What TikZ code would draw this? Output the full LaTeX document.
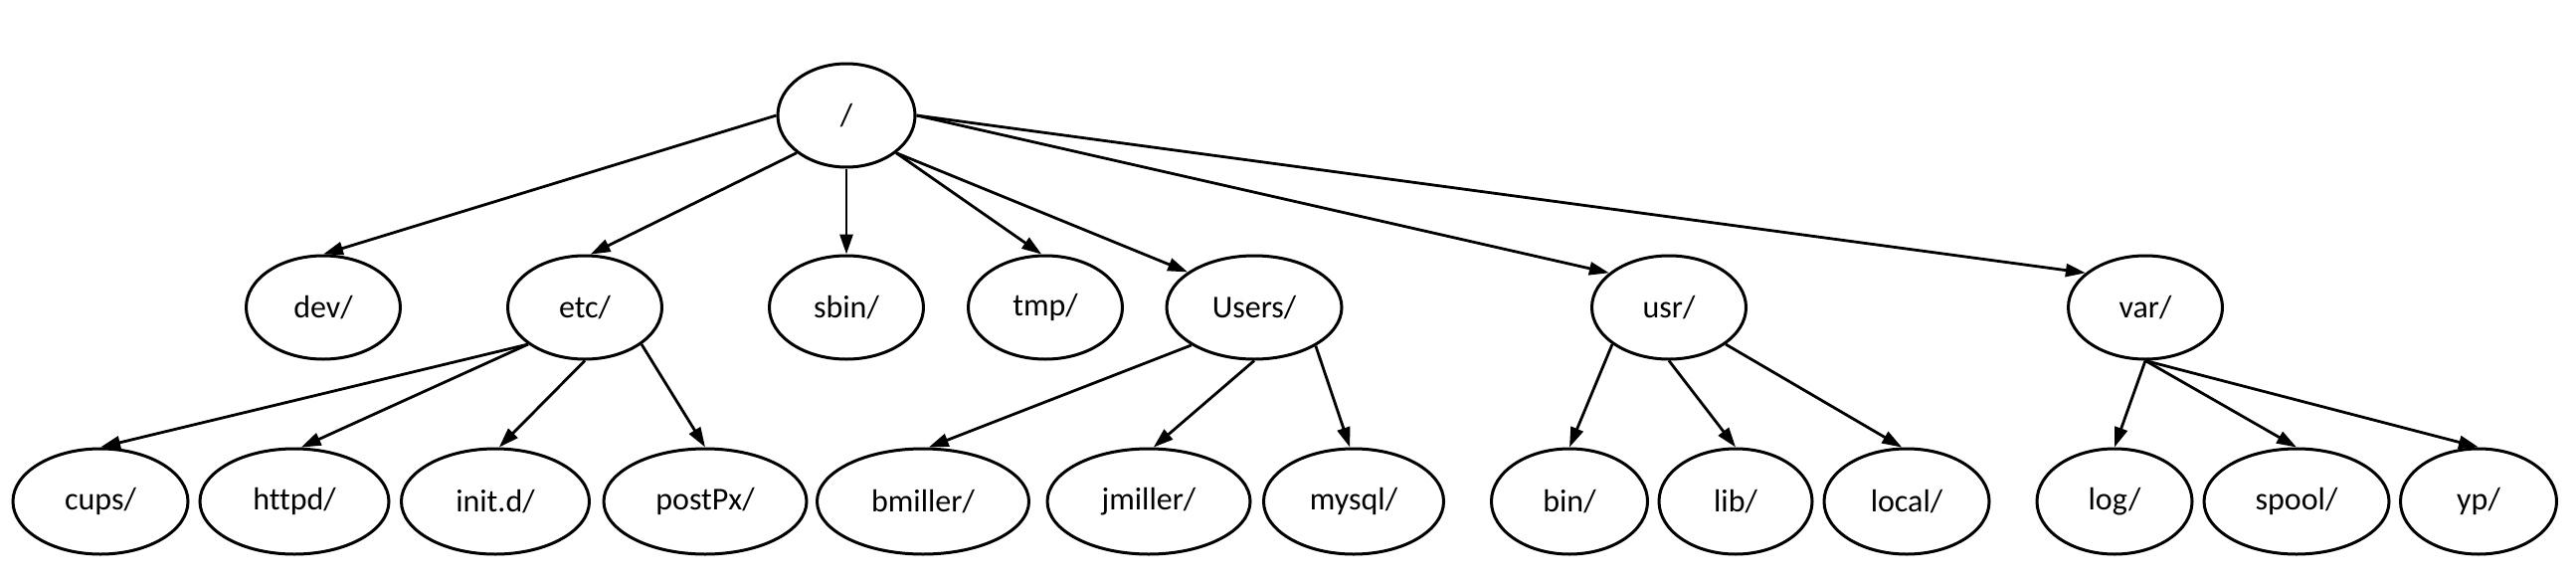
\documentclass[tikz,border=0pt]{standalone}
\usepackage{fontspec}
\setmainfont{Carlito}[Ligatures=NoCommon]
\usetikzlibrary{shapes.geometric,arrows.meta}
\newcommand{\dirfont}{\fontsize{32pt}{38pt}\selectfont}
\tikzset{
  dirnode/.style={ellipse, draw, line width=3pt, minimum height=104pt, minimum width=155pt, inner sep=0pt, font=\dirfont},
  leaf/.style={dirnode, minimum height=106pt},
  conn/.style={line width=2.8pt, -{Triangle[length=20pt,width=13pt]}}
}
\begin{document}
\begin{tikzpicture}[x=1pt,y=-1pt]
\useasboundingbox (0,0) rectangle (2590,589);
% root
\node[dirnode, minimum width=138pt] (root) at (851,116) {/};
% level 1
\node[dirnode] (dev) at (325,309) {dev/};
\node[dirnode] (etc) at (588,309) {etc/};
\node[dirnode] (sbin) at (851,309) {sbin/};
\node[dirnode] (tmp) at (1051,309) {tmp/};
\node[dirnode, minimum width=176pt] (users) at (1261,309) {Users/};
\node[dirnode] (usr) at (1678,309) {usr/};
\node[dirnode] (var) at (2157,309) {var/};
% level 2
\node[leaf, minimum width=176pt] (cups) at (101,504) {cups/};
\node[leaf, minimum width=190pt] (httpd) at (296,504) {httpd/};
\node[leaf, minimum width=189pt] (initd) at (498,504) {init.d/};
\node[leaf, minimum width=204pt] (postpx) at (709,504) {postPx/};
\node[leaf, minimum width=213pt] (bmiller) at (928,504) {bmiller/};
\node[leaf, minimum width=204pt] (jmiller) at (1155,504) {jmiller/};
\node[leaf, minimum width=181pt] (mysql) at (1361,504) {mysql/};
\node[leaf, minimum width=157pt] (bin) at (1578,504) {bin/};
\node[leaf, minimum width=154pt] (lib) at (1745,504) {lib/};
\node[leaf, minimum width=166pt] (local) at (1917,504) {local/};
\node[leaf, minimum width=156pt] (log) at (2126,504) {log/};
\node[leaf, minimum width=186pt] (spool) at (2309,504) {spool/};
\node[leaf, minimum width=157pt] (yp) at (2492,504) {yp/};
% root edges
\draw[conn] (root.west) -- (dev.north);
\draw[conn] (root.217) -- (etc.84);
\draw[conn] (root.south) -- (sbin.north);
\draw[conn] (root.323) -- (tmp.94);
\draw[conn] (root.323) -- (users.152);
\draw[conn] (root.east) -- (usr.150);
\draw[conn] (root.east) -- (var.150);
% etc edges
\draw[conn] (etc.213) -- (cups.north);
\draw[conn] (etc.213) -- (httpd.83);
\draw[conn] (etc.south) -- (initd.86);
\draw[conn] (etc.327) -- (postpx.north);
% Users edges
\draw[conn] (users.211) -- (bmiller.84);
\draw[conn] (users.south) -- (jmiller.85);
\draw[conn] (users.328) -- (mysql.94);
% usr edges
\draw[conn] (usr.213) -- (bin.north);
\draw[conn] (usr.south) -- (lib.north);
\draw[conn] (usr.327) -- (local.95);
% var edges
\draw[conn] (var.south) -- (log.north);
\draw[conn] (var.south) -- (spool.north);
\draw[conn] (var.south) -- (yp.north);
\end{tikzpicture}
\end{document}
